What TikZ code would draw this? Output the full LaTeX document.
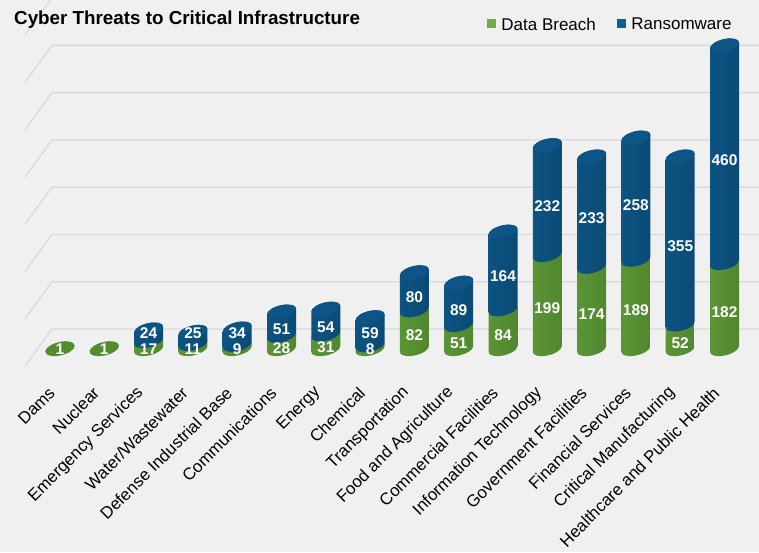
\documentclass[tikz,border=0pt]{standalone}
\usepackage{fontspec}
\setmainfont{Liberation Sans}
\usetikzlibrary{positioning}

\definecolor{bgcol}{HTML}{F0F0F0}
\definecolor{gridcol}{HTML}{D9D9D9}
\definecolor{bedge}{HTML}{0C5382}
\definecolor{bmid}{HTML}{1A71A8}
\definecolor{btopcol}{HTML}{0D5587}
\definecolor{gedge}{HTML}{5A9534}
\definecolor{gmid}{HTML}{7AB64E}
\definecolor{gtopcol}{HTML}{518D30}
\definecolor{lgreen}{HTML}{6EAD45}
\definecolor{lblue}{HTML}{0F5F91}

\tikzset{
  gbody/.style={left color=gedge,middle color=gmid,right color=gedge!90!black},
  bbody/.style={left color=bedge,middle color=bmid,right color=bedge!90!black},
  val/.style={text=white,font=\fontsize{15.5}{18}\selectfont\bfseries,inner sep=0pt},
  cat/.style={font=\fontsize{16.8}{20}\selectfont,rotate=45,anchor=east,inner sep=0pt},
  gridline/.style={draw=gridcol,line width=1.3pt},
  sq/.style={minimum size=9pt,inner sep=0pt}
}

% one stacked cylinder: index, data breach, ransomware, sector
\newcommand{\cylbar}[4]{%
  \pgfmathsetmacro{\cx}{60+44.3*#1}
  \pgfmathsetmacro{\gh}{0.4727*#2}
  \pgfmathsetmacro{\bh}{0.4727*#3}
  \pgfmathsetmacro{\gl}{max(\gh/2-6,0)}
  \pgfmathsetmacro{\bl}{max(\gh+\bh/2-6,\gl+16)}
  \begin{scope}[shift={(\cx,203)},yslant=0.2]
    \shade[gbody] (-14.5,0) arc[start angle=180,end angle=360,x radius=14.5,y radius=6.5]
      -- (14.5,\gh) arc[start angle=0,end angle=180,x radius=14.5,y radius=6.5] -- cycle;
    \ifnum#3>0
      \shade[bbody] (-14.5,\gh) arc[start angle=180,end angle=360,x radius=14.5,y radius=6.5]
        -- (14.5,\gh+\bh) arc[start angle=0,end angle=180,x radius=14.5,y radius=6.5] -- cycle;
      \fill[btopcol] (0,\gh+\bh) ellipse[x radius=14.5,y radius=6.5];
    \else
      \fill[gtopcol] (0,\gh) ellipse[x radius=14.5,y radius=6.5];
    \fi
  \end{scope}
  \node[val] (g#1) at (\cx,203+\gl) {#2};
  \ifnum#3>0
    \node[val] (b#1) at (\cx,203+\bl) {#3};
  \fi
  \node[cat] (c#1) at (\cx-8,162) {#4};
}

\begin{document}
\begin{tikzpicture}[x=1pt,y=1pt]
\useasboundingbox (0,0) rectangle (759,552);
\fill[bgcol] (0,0) rectangle (759,552);
\clip (0,0) rectangle (759,552);

% floor and grid
\foreach \k in {0,...,7}
  \draw[gridline] (25,223+47.27*\k-37) -- (52,223+47.27*\k) -- (759,223+47.27*\k);

% title and legend
\node[anchor=base west,inner sep=0pt,font=\fontsize{18.8}{23}\selectfont\bfseries] (title) at (14,527) {Cyber Threats to Critical Infrastructure};
\node[sq,fill=lgreen] (gsq) at (491.5,528) {};
\node[right=5pt of gsq,inner sep=0pt,font=\fontsize{17}{20}\selectfont] (gtxt) {Data Breach};
\node[sq,fill=lblue] (bsq) at (621.5,528) {};
\node[right=5pt of bsq,inner sep=0pt,font=\fontsize{17}{20}\selectfont] (btxt) {Ransomware};

% bars
\cylbar{0}{1}{0}{Dams}
\cylbar{1}{1}{0}{Nuclear}
\cylbar{2}{17}{24}{Emergency Services}
\cylbar{3}{11}{25}{Water/Wastewater}
\cylbar{4}{9}{34}{Defense Industrial Base}
\cylbar{5}{28}{51}{Communications}
\cylbar{6}{31}{54}{Energy}
\cylbar{7}{8}{59}{Chemical}
\cylbar{8}{82}{80}{Transportation}
\cylbar{9}{51}{89}{Food and Agriculture}
\cylbar{10}{84}{164}{Commercial Facilities}
\cylbar{11}{199}{232}{Information Technology}
\cylbar{12}{174}{233}{Government Facilities}
\cylbar{13}{189}{258}{Financial Services}
\cylbar{14}{52}{355}{Critical Manufacturing}
\cylbar{15}{182}{460}{Healthcare and Public Health}
\end{tikzpicture}
\end{document}
